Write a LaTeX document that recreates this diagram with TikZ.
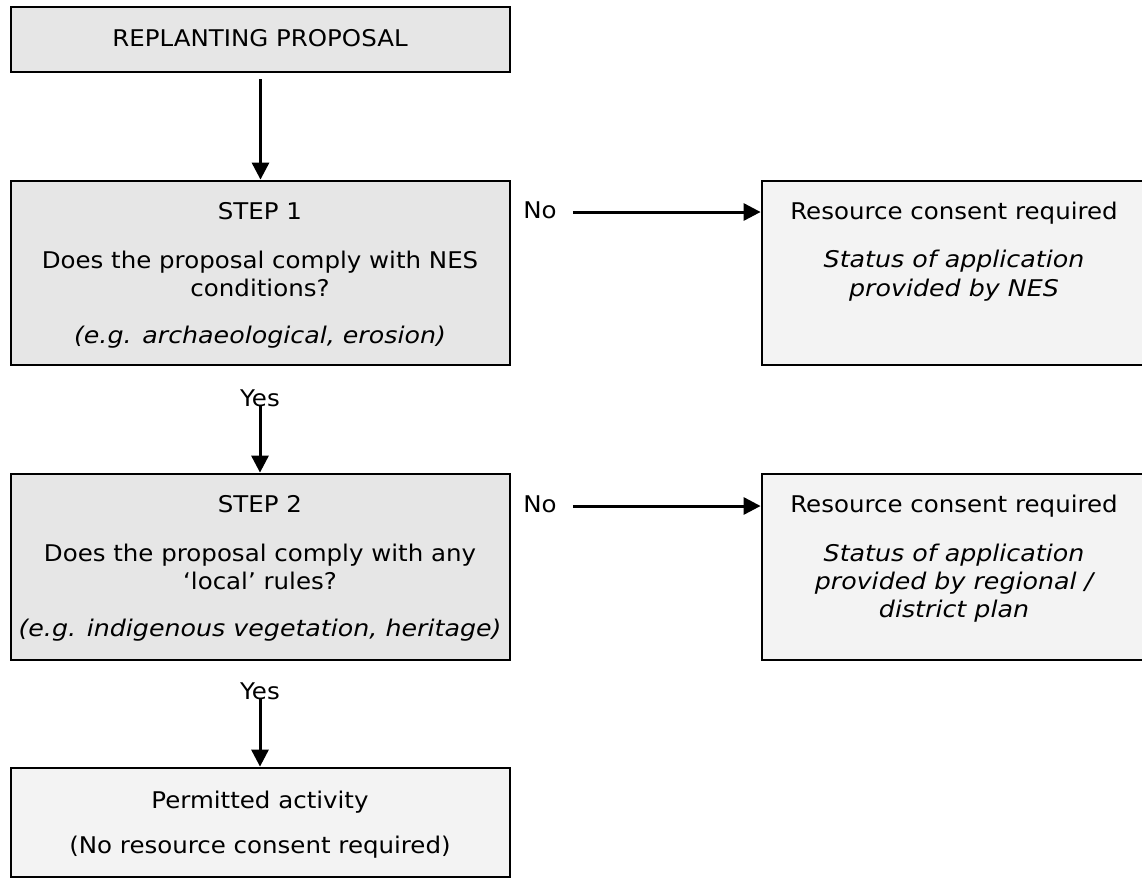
\documentclass[tikz,border=0pt]{standalone}
\usepackage{fontspec}
\setmainfont{DejaVu Sans}[FakeStretch=1.065, ItalicFeatures={FakeStretch=1.1}]
\usetikzlibrary{arrows.meta}
\definecolor{boxdark}{HTML}{E6E6E6}
\definecolor{boxlight}{HTML}{F3F3F3}
\tikzset{
  box/.style={draw=black, line width=2.8pt, rectangle, inner sep=0pt},
  darkbox/.style={box, fill=boxdark},
  lightbox/.style={box, fill=boxlight},
  txt/.style={inner sep=0pt, text height=16pt, text depth=4pt, font=\fontsize{23}{27}\selectfont},
  itxt/.style={txt, font=\fontsize{23}{27}\selectfont\itshape},
  arr/.style={line width=3pt, -{Triangle[length=17pt,width=17pt]}},
}
\begin{document}
\begin{tikzpicture}[x=1pt,y=-1pt]
\useasboundingbox (0,0) rectangle (1142,879);
\fill[white] (0,0) rectangle (1142,879);
% boxes
\node[darkbox, minimum width=499pt, minimum height=65pt] (top) at (260.5,39.5) {};
\node[darkbox, minimum width=499pt, minimum height=184pt] (step1) at (260.5,273) {};
\node[lightbox, minimum width=383pt, minimum height=184pt] (r1) at (953.5,273) {};
\node[darkbox, minimum width=499pt, minimum height=186pt] (step2) at (260.5,567) {};
\node[lightbox, minimum width=383pt, minimum height=186pt] (r2) at (953.5,567) {};
\node[lightbox, minimum width=499pt, minimum height=109pt] (perm) at (260.5,822.5) {};
% texts
\node[txt] (ttop) at (260,40) {REPLANTING PROPOSAL};
\node[txt] (s1a) at (260,213) {STEP 1};
\node[txt] (s1b) at (260,262) {Does the proposal comply with NES};
\node[txt] (s1c) at (260,290) {conditions?};
\node[itxt] (s1d) at (260,337) {(e.g. archaeological, erosion)};
\node[txt] (r1a) at (954,213) {Resource consent required};
\node[itxt] (r1b) at (954,261) {Status of application};
\node[itxt] (r1c) at (954,290) {provided by NES};
\node[txt] (s2a) at (260,506) {STEP 2};
\node[txt] (s2b) at (260,555) {Does the proposal comply with any};
\node[txt] (s2c) at (260,583) {`local' rules?};
\node[itxt] (s2d) at (260,630) {(e.g. indigenous vegetation, heritage)};
\node[txt] (r2a) at (954,506) {Resource consent required};
\node[itxt] (r2b) at (954,555) {Status of application};
\node[itxt] (r2c) at (954,583) {provided by regional /};
\node[itxt] (r2d) at (954,611) {district plan};
\node[txt] (pa) at (260,802) {Permitted activity};
\node[txt] (pb) at (260,847) {(No resource consent required)};
% labels
\node[txt] (no1) at (540,212) {No};
\node[txt] (no2) at (540,506) {No};
\node[txt] (yes1) at (260,400) {Yes};
\node[txt] (yes2) at (260,693) {Yes};
% connectors
\draw[arr] ([yshift=-6pt]top.south) -- (step1.north);
\draw[arr] ([yshift=4pt]yes1.south) -- (yes1.south |- step2.north);
\draw[arr] ([yshift=4pt]yes2.south) -- (yes2.south |- perm.north);
\draw[arr] ([xshift=16pt]no1.east) -- (no1.east -| r1.west);
\draw[arr] ([xshift=16pt]no2.east) -- (no2.east -| r2.west);
\end{tikzpicture}
\end{document}
